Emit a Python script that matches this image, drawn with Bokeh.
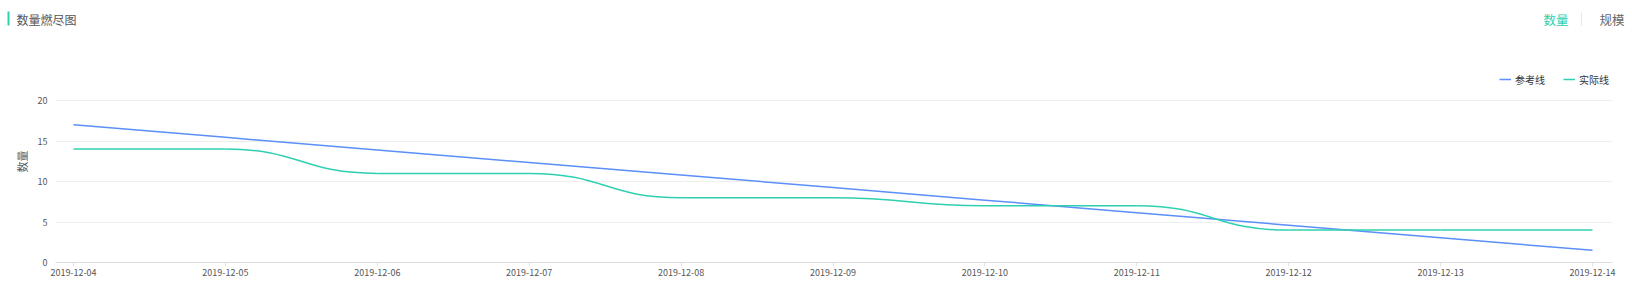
import numpy as np
from bokeh.plotting import figure
from bokeh.layouts import column
from bokeh.models import (Range1d, FixedTicker, Label, BoxAnnotation, Legend, LegendItem)
from bokeh.embed import file_html
from bokeh.resources import INLINE

# ---- data ----
dates = ["2019-12-04", "2019-12-05", "2019-12-06", "2019-12-07", "2019-12-08",
         "2019-12-09", "2019-12-10", "2019-12-11", "2019-12-12", "2019-12-13",
         "2019-12-14"]
reference = [17, 15.45, 13.9, 12.35, 10.8, 9.25, 7.7, 6.15, 4.6, 3.05, 1.5]
actual = [14, 14, 11, 11, 8, 8, 7, 7, 4, 4, 4]
y_ticks = [0, 5, 10, 15, 20]
title_text = "数量燃尽图"
tab_labels = ["数量", "规模"]
series_names = ["参考线", "实际线"]
y_title = "数量"

FONT = "Noto Sans CJK SC"
BLUE = "#5b8ff9"
GREEN = "#2fd0b0"

W, H = 1632, 293
HEAD_H = 60
# layout (canvas px)
GRID_L, GRID_R = 55, 1612     # extent of grid / axis line
X_FIRST, X_LAST = 73, 1592    # first and last category positions
Y_ZERO, Y_TOP = 262, 100      # y=0 and y=20 positions

# ---------------- header figure ----------------
hdr = figure(width=W, height=HEAD_H, output_backend="svg", toolbar_location=None,
             x_range=Range1d(0, W), y_range=Range1d(HEAD_H, 0),
             min_border=0, min_border_left=0, min_border_right=0,
             min_border_top=0, min_border_bottom=0)
hdr.frame_align = False
hdr.axis.visible = False
hdr.grid.visible = False
hdr.outline_line_color = None
hdr.background_fill_color = "white"
hdr.border_fill_color = "white"

hdr.add_layout(BoxAnnotation(left=7, right=9, top=11, bottom=25,
                             fill_color=GREEN, fill_alpha=1, line_color=None))
hdr.add_layout(Label(x=16, y=18.5, text=title_text, text_font=FONT,
                     text_font_size="12px", text_color="#555555",
                     text_baseline="middle", text_align="left"))
hdr.add_layout(Label(x=1543, y=18.5, text=tab_labels[0], text_font=FONT,
                     text_font_size="12.5px", text_color=GREEN,
                     text_baseline="middle", text_align="left"))
hdr.add_layout(BoxAnnotation(left=1580.5, right=1581.5, top=12, bottom=25,
                             fill_color="#e6e6e6", fill_alpha=1, line_color=None))
hdr.add_layout(Label(x=1599, y=18.5, text=tab_labels[1], text_font=FONT,
                     text_font_size="12.5px", text_color="#666666",
                     text_baseline="middle", text_align="left"))

# ---------------- main chart ----------------
px_per_day = (X_LAST - X_FIRST) / (len(dates) - 1)
px_per_unit = (Y_ZERO - Y_TOP) / 20.0
x_start = -(X_FIRST - GRID_L) / px_per_day
x_end = (len(dates) - 1) + (GRID_R - X_LAST) / px_per_day
y_end = (Y_ZERO - HEAD_H) / px_per_unit

p = figure(width=W, height=H - HEAD_H, output_backend="svg", toolbar_location=None,
           x_range=Range1d(x_start, x_end), y_range=Range1d(0, y_end),
           min_border_left=GRID_L, min_border_right=W - GRID_R,
           min_border_top=0, min_border_bottom=H - Y_ZERO)
p.frame_align = False
p.outline_line_color = None
p.background_fill_color = "white"
p.border_fill_color = "white"

idx = np.arange(len(dates), dtype=float)

# reference line (linear)
r_ref = p.line(idx, reference, line_color=BLUE, line_width=1.5)

# smoothed actual line via bezier segments derived from the data
ya = np.array(actual, dtype=float)
n = len(ya)
m = np.zeros(n)
for i in range(n):
    if i == 0:
        m[i] = ya[1] - ya[0]
    elif i == n - 1:
        m[i] = ya[-1] - ya[-2]
    else:
        d0 = ya[i] - ya[i - 1]
        d1 = ya[i + 1] - ya[i]
        m[i] = 0.0 if d0 * d1 <= 0 else (ya[i + 1] - ya[i - 1]) / 2.0
dx = np.diff(idx)
x0, x1 = idx[:-1], idx[1:]
y0, y1 = ya[:-1], ya[1:]
cx0 = x0 + 0.5 * dx
cy0 = y0 + 0.5 * dx * m[:-1]
cx1 = x1 - 0.5 * dx
cy1 = y1 - 0.5 * dx * m[1:]
r_act = p.bezier(x0=x0, y0=y0, x1=x1, y1=y1, cx0=cx0, cy0=cy0, cx1=cx1, cy1=cy1,
                 line_color=GREEN, line_width=1.5)

# axes
p.xaxis.ticker = FixedTicker(ticks=list(range(len(dates))))
p.xaxis.major_label_overrides = {i: d for i, d in enumerate(dates)}
p.xaxis.axis_line_color = "#dcdcdc"
p.xaxis.major_tick_line_color = "#e3e3e3"
p.xaxis.major_tick_in = 0
p.xaxis.major_tick_out = 4
p.xaxis.minor_tick_line_color = None
p.xaxis.major_label_standoff = 2
p.xaxis.major_label_text_font = FONT
p.xaxis.major_label_text_font_size = "9px"
p.xaxis.major_label_text_color = "#555555"

p.yaxis.ticker = FixedTicker(ticks=y_ticks)
p.yaxis.axis_line_color = None
p.yaxis.major_tick_line_color = None
p.yaxis.minor_tick_line_color = None
p.yaxis.major_tick_in = 0
p.yaxis.major_tick_out = 0
p.yaxis.major_label_standoff = 8
p.yaxis.major_label_text_font = FONT
p.yaxis.major_label_text_font_size = "9px"
p.yaxis.major_label_text_color = "#555555"
p.yaxis.axis_label = y_title
p.yaxis.axis_label_standoff = 5
p.yaxis.axis_label_text_font = FONT
p.yaxis.axis_label_text_font_size = "11px"
p.yaxis.axis_label_text_font_style = "normal"
p.yaxis.axis_label_text_color = "#555555"

p.xgrid.grid_line_color = None
p.ygrid.ticker = FixedTicker(ticks=y_ticks)
p.ygrid.grid_line_color = "#eeeeee"

# legend (inside the frame's upper area); location gives its bottom-left
legend = Legend(items=[LegendItem(label=series_names[0], renderers=[r_ref]),
                       LegendItem(label=series_names[1], renderers=[r_act])],
                orientation="horizontal",
                location=(1499 - GRID_L, Y_ZERO - 86.7),
                border_line_color=None, background_fill_alpha=0,
                padding=0, margin=0, spacing=18,
                glyph_width=12, glyph_height=12, label_height=12,
                label_standoff=4, label_text_font=FONT,
                label_text_font_size="10px", label_text_color="#333333")
p.add_layout(legend)

layout = column(hdr, p, spacing=0)
open("out.html", "w").write(file_html(layout, INLINE))
